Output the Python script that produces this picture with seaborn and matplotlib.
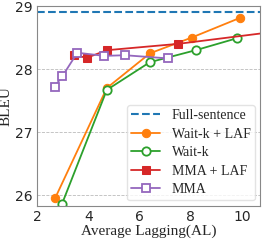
import matplotlib
matplotlib.use("Agg")
import matplotlib.pyplot as plt
import seaborn as sns
import pandas as pd

full_sentence = 28.90

waitk_laf_al = [2.70, 4.72, 6.40, 8.03, 9.90]
waitk_laf_bleu = [25.95, 27.70, 28.25, 28.50, 28.81]

waitk_al = [2.97, 4.72, 6.40, 8.19, 9.80]
waitk_bleu = [25.86, 27.67, 28.11, 28.30, 28.49]

mma_laf_al = [3.44, 3.94, 4.73, 7.49, 12.0]
mma_laf_bleu = [28.22, 28.18, 28.30, 28.40, 28.63]

mma_al = [2.68, 2.99, 3.57, 4.62, 5.43, 7.10]
mma_bleu = [27.72, 27.89, 28.26, 28.21, 28.22, 28.17]

sns.set_style("white")
serif = ["Liberation Serif", "DejaVu Serif"]

fig, ax = plt.subplots(figsize=(2.63, 2.42), dpi=100)
fig.subplots_adjust(left=0.141, right=0.989, top=0.975, bottom=0.149)

ax.grid(axis="y", linestyle="--", color="#bbbbbb", linewidth=0.6)
ax.set_axisbelow(True)

ax.axhline(full_sentence, color="#1f77b4", linestyle="--", linewidth=1.5, label="Full-sentence")

def df(x, y):
    return pd.DataFrame({"x": x, "y": y})

sns.lineplot(data=df(waitk_laf_al, waitk_laf_bleu), x="x", y="y", ax=ax, color="#ff7f0e",
             marker="o", markersize=6, markeredgecolor="#ff7f0e", linewidth=1.3, label="Wait-k + LAF", sort=False)
sns.lineplot(data=df(waitk_al, waitk_bleu), x="x", y="y", ax=ax, color="#2ca02c",
             marker="o", markersize=6, markerfacecolor="white", markeredgecolor="#2ca02c",
             markeredgewidth=1.3, linewidth=1.3, label="Wait-k", sort=False)
sns.lineplot(data=df(mma_laf_al, mma_laf_bleu), x="x", y="y", ax=ax, color="#d62728",
             marker="s", markersize=6, markeredgecolor="#d62728", linewidth=1.3, label="MMA + LAF", sort=False)
sns.lineplot(data=df(mma_al, mma_bleu), x="x", y="y", ax=ax, color="#9467bd",
             marker="s", markersize=6, markerfacecolor="white", markeredgecolor="#9467bd",
             markeredgewidth=1.3, linewidth=1.3, label="MMA", sort=False)

ax.set_xlim(2, 10.7)
ax.set_ylim(25.83, 29.0)
ax.set_xticks([2, 4, 6, 8, 10])
ax.set_yticks([26, 27, 28, 29])
ax.tick_params(labelsize=10, length=0, pad=3)
for s in ax.spines.values():
    s.set_color("#888888")
    s.set_linewidth(0.8)

ax.set_xlabel("Average Lagging(AL)", fontsize=11, family=serif, labelpad=0)
ax.set_ylabel("BLEU", fontsize=11, family=serif, labelpad=2)

ax.legend(loc="lower right", prop={"family": serif, "size": 10}, frameon=True,
          fancybox=True, framealpha=0.8, edgecolor="#dddddd", handlelength=2.1,
          handletextpad=0.8, borderpad=0.3, labelspacing=0.4, borderaxespad=0.4)

fig.savefig("out.png", dpi=100)
